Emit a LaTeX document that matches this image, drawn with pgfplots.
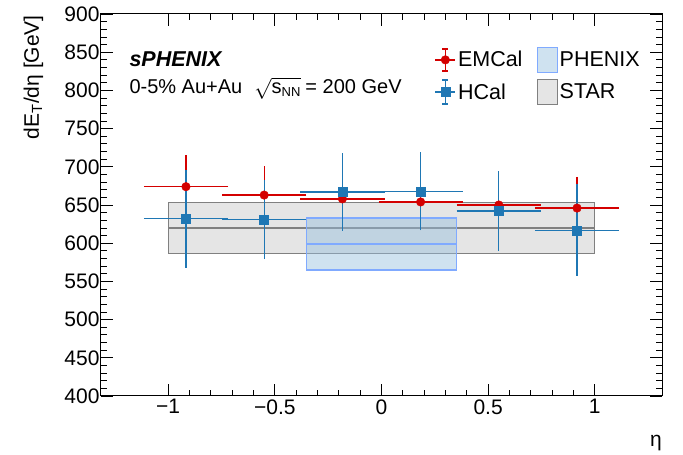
\documentclass[border=0pt]{standalone}
\usepackage{pgfplots}
\usepackage{pgfplotstable}
\pgfplotsset{compat=1.18}
\usepackage{fontspec}
\setmainfont{Liberation Sans}
\definecolor{emred}{RGB}{212,0,0}
\definecolor{hblue}{RGB}{31,119,180}
\definecolor{starfill}{RGB}{229,229,229}
\definecolor{starline}{RGB}{128,128,128}
\definecolor{phxfill}{RGB}{148,190,222}
\definecolor{phxline}{RGB}{128,170,255}

\pgfplotstableread{
x y ex ey
-0.9167 674 0.1833 37
-0.55 663 0.1833 34
-0.1833 658 0.1833 33
0.1833 654 0.1833 33
0.55 650 0.1833 34
0.9167 646 0.1833 37
}\emcal
\pgfplotstableread{
x y ex ey
-0.9167 632 0.1833 60
-0.55 631 0.1833 48
-0.1833 667 0.1833 47
0.1833 668 0.1833 47
0.55 642 0.1833 48
0.9167 617 0.1833 56
}\hcal

\begin{document}
\begin{tikzpicture}
\begin{axis}[
  scale only axis, width=561pt, height=382pt,
  xmin=-1.315, xmax=1.315, ymin=400, ymax=900,
  xtick={-1,-0.5,0,0.5,1}, xticklabels={−1,−0.5,0,0.5,1},
  ytick={400,450,...,900},
  minor x tick num=4, minor y tick num=4,
  tick align=inside,
  major tick length=12pt, minor tick length=6pt,
  axis line style={line width=1pt},
  every tick/.style={black, line width=0.8pt},
  tick label style={font=\fontsize{21}{25}\selectfont},
  /pgf/number format/assume math mode=true,
  yticklabel style={xshift=2pt},
  clip=false,
  legend columns=2, transpose legend,
  legend cell align=left,
  legend style={draw=none, fill=none, at={(0.5945,0.9147)}, anchor=north west,
    font=\fontsize{21.5}{24}\selectfont, inner sep=0pt,
    nodes={inner sep=2pt}, row sep=6pt, column sep=0pt,
    /tikz/every even column/.append style={column sep=12pt}},
]
% STAR band
\addplot[draw=starline, fill=starfill, line width=1.2pt, forget plot]
  coordinates {(-1,587) (1,587) (1,653) (-1,653)} -- cycle;
\addplot[starline, line width=1.2pt, forget plot]
  coordinates {(-1,620) (1,620)};
% PHENIX band
\addplot[draw=phxline, fill=phxfill, fill opacity=0.45, line width=1.2pt, forget plot]
  coordinates {(-0.35,565) (0.35,565) (0.35,633) (-0.35,633)} -- cycle;
\addplot[phxline, line width=1.2pt, forget plot]
  coordinates {(-0.35,599) (0.35,599)};
% EMCal
\addplot[emred, only marks, mark=*, mark size=4.3pt, mark options={fill=emred, draw=emred},
  error bars/.cd, x dir=both, x explicit, y dir=both, y explicit,
  error bar style={line width=1.3pt, emred},
  error mark options={emred, mark size=3pt, line width=1.3pt},
  /pgfplots/legend image code/.code={
    \draw[emred, line width=1.3pt] (0pt,0pt) -- (20pt,0pt);
    \draw[emred, line width=1.3pt] (10pt,-11pt) -- (10pt,11pt);
    \draw[emred, line width=1.3pt] (7pt,-11pt) -- (13pt,-11pt) (7pt,11pt) -- (13pt,11pt);
    \fill[emred] (10pt,0pt) circle (4.3pt);
  }]
  table[x=x, y=y, x error=ex, y error=ey] {\emcal};
\addlegendentry{EMCal}
% HCal
\addplot[hblue, only marks, mark=square*, mark size=4.5pt, mark options={fill=hblue, draw=hblue},
  error bars/.cd, x dir=both, x explicit, y dir=both, y explicit,
  error bar style={line width=1.3pt, hblue},
  error mark options={hblue, mark size=3pt, line width=1.3pt},
  /pgfplots/legend image code/.code={
    \draw[hblue, line width=1.3pt] (0pt,0pt) -- (20pt,0pt);
    \draw[hblue, line width=1.3pt] (10pt,-12pt) -- (10pt,12pt);
    \draw[hblue, line width=1.3pt] (7pt,-12pt) -- (13pt,-12pt) (7pt,12pt) -- (13pt,12pt);
    \fill[hblue] (5.5pt,-4.5pt) rectangle (14.5pt,4.5pt);
  }]
  table[x=x, y=y, x error=ex, y error=ey] {\hcal};
\addlegendentry{HCal}
\addlegendimage{legend image code/.code={
  \draw[phxline, fill=phxfill, fill opacity=0.45, line width=1.2pt] (0pt,-12.5pt) rectangle (20pt,12.5pt);}}
\addlegendentry{PHENIX}
\addlegendimage{legend image code/.code={
  \draw[starline, fill=starfill, line width=1.2pt] (0pt,-12.5pt) rectangle (20pt,12.5pt);}}
\addlegendentry{STAR}
\end{axis}
% labels
\node[rotate=90, anchor=base east, inner sep=0pt, font=\fontsize{21}{25}\selectfont]
  at ([xshift=-62pt, yshift=-1pt]current axis.north west) {dE\textsubscript{T}/dη [GeV]};
\node[anchor=base east, inner sep=0pt, font=\fontsize{21}{25}\selectfont]
  at ([yshift=-51pt]current axis.south east) {η};
\node[anchor=base west, inner sep=0pt, font=\fontsize{21.5}{25}\selectfont\bfseries\itshape]
  at ([xshift=28.3pt, yshift=-52.7pt]current axis.north west) {sPHENIX};
\node[anchor=base west, inner sep=0pt, font=\fontsize{20}{24}\selectfont]
  at ([xshift=28.3pt, yshift=-79.3pt]current axis.north west)
  {0-5\% Au+Au\hspace{0.6em}$\sqrt{\mbox{s}_{\mbox{\fontsize{13}{13}\selectfont NN}}}$\hspace{-1pt} = 200 GeV};
% bounding box
\path ([xshift=-101pt, yshift=-59pt]current axis.south west) -- ([xshift=21pt, yshift=14pt]current axis.north east);
\end{tikzpicture}
\end{document}
